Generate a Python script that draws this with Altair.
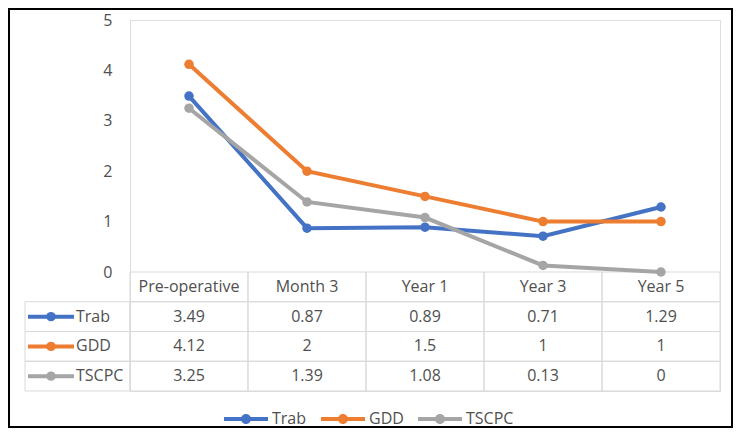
import altair as alt
import pandas as pd

categories = ["Pre-operative", "Month 3", "Year 1", "Year 3", "Year 5"]
series_names = ["Trab", "GDD", "TSCPC"]
trab = [3.49, 0.87, 0.89, 0.71, 1.29]
gdd = [4.12, 2, 1.5, 1, 1]
tscpc = [3.25, 1.39, 1.08, 0.13, 0]
series_colors = ["#4472C4", "#ED7D31", "#A5A5A5"]
y_ticks = [0, 1, 2, 3, 4, 5]

values = {"Trab": trab, "GDD": gdd, "TSCPC": tscpc}
long = pd.DataFrame([{"cat": c, "series": s, "value": v}
                     for s in series_names for c, v in zip(categories, values[s])])


def fmt(v):
    return f"{v:g}"


rows_order = ["header"] + series_names
cells = pd.DataFrame([{"cat": c, "row": "header", "label": c} for c in categories] +
                     [{"cat": c, "row": s, "label": fmt(v)}
                      for s in series_names for c, v in zip(categories, values[s])])
left = pd.DataFrame([{"row": s, "label": s, "color": col}
                     for s, col in zip(series_names, series_colors)])

FONT = "Open Sans"
TXT = "#505050"
GRID = "#D9D9D9"
FS = 16
W, H = 590, 371
LINE_H = 252
PAD = {"left": 122, "top": 12, "right": 13, "bottom": 37}
SYMBOL = "M-4.4,-0.4H4.4V0.4H-4.4Z M1,0A1,1,0,1,1,-1,0A1,1,0,1,1,1,0Z"

x_enc = alt.X("cat:N", sort=categories,
              scale=alt.Scale(type="band", domain=categories, paddingInner=0, paddingOuter=0),
              axis=None)


def y_tab(**kw):
    return alt.Y("row:N", sort=rows_order,
                 scale=alt.Scale(type="band", domain=rows_order, range=[LINE_H, H],
                                 paddingInner=0, paddingOuter=0),
                 axis=None, **kw)


lines = alt.Chart(long).mark_line(
    strokeWidth=4,
    point=alt.OverlayMarkDef(size=90, filled=True, opacity=1),
).encode(
    x=x_enc,
    y=alt.Y("value:Q",
            scale=alt.Scale(domain=[0, 5], range=[LINE_H, 0], nice=False),
            axis=alt.Axis(values=y_ticks, domain=False, ticks=False, labelPadding=18,
                          gridColor=GRID, gridWidth=1, title=None,
                          labelFont=FONT, labelFontSize=FS, labelColor=TXT)),
    color=alt.Color("series:N", sort=series_names,
                    scale=alt.Scale(domain=series_names, range=series_colors),
                    legend=alt.Legend(orient="none", legendX=108, legendY=391,
                                      direction="horizontal", title=None,
                                      symbolType=SYMBOL, symbolSize=100,
                                      symbolStrokeWidth=0, labelOffset=18,
                                      columnPadding=14, labelFont=FONT,
                                      labelFontSize=FS, labelColor=TXT)),
)

cell_rect = alt.Chart(cells).mark_rect(fillOpacity=0, stroke=GRID, strokeWidth=1).encode(
    x=x_enc, y=y_tab())

cell_text = alt.Chart(cells).mark_text(font=FONT, fontSize=FS, color=TXT).encode(
    x=x_enc, y=y_tab(), text="label:N")

left_rect = alt.Chart(left).mark_rect(fillOpacity=0, stroke=GRID, strokeWidth=1).encode(
    x=alt.value(-105), x2=alt.value(0), y=y_tab())

left_rule = alt.Chart(left).mark_rule(strokeWidth=4).encode(
    x=alt.value(-102), x2=alt.value(-56), y=y_tab(bandPosition=0.5),
    color=alt.Color("color:N", scale=None))

left_dot = alt.Chart(left).mark_circle(size=90, opacity=1).encode(
    x=alt.value(-79), y=y_tab(bandPosition=0.5),
    color=alt.Color("color:N", scale=None))

left_text = alt.Chart(left).mark_text(font=FONT, fontSize=FS, color=TXT, align="left").encode(
    x=alt.value(-54), y=y_tab(), text="label:N")

border = alt.Chart(pd.DataFrame({"a": [0]})).mark_rect(
    fillOpacity=0, stroke="#000000", strokeWidth=2).encode(
    x=alt.value(-PAD["left"] + 1), x2=alt.value(W + PAD["right"] - 1),
    y=alt.value(-PAD["top"] + 1), y2=alt.value(H + PAD["bottom"] - 1))

chart = alt.layer(
    cell_rect, left_rect, cell_text, left_text, left_rule, left_dot, lines, border
).resolve_scale(y="independent").properties(
    width=W, height=H, padding=PAD,
    autosize=alt.AutoSizeParams(type="none"),
).configure_view(stroke=None).configure(background="white")

chart.save("out.html", embed_options={"renderer": "svg", "actions": False})
